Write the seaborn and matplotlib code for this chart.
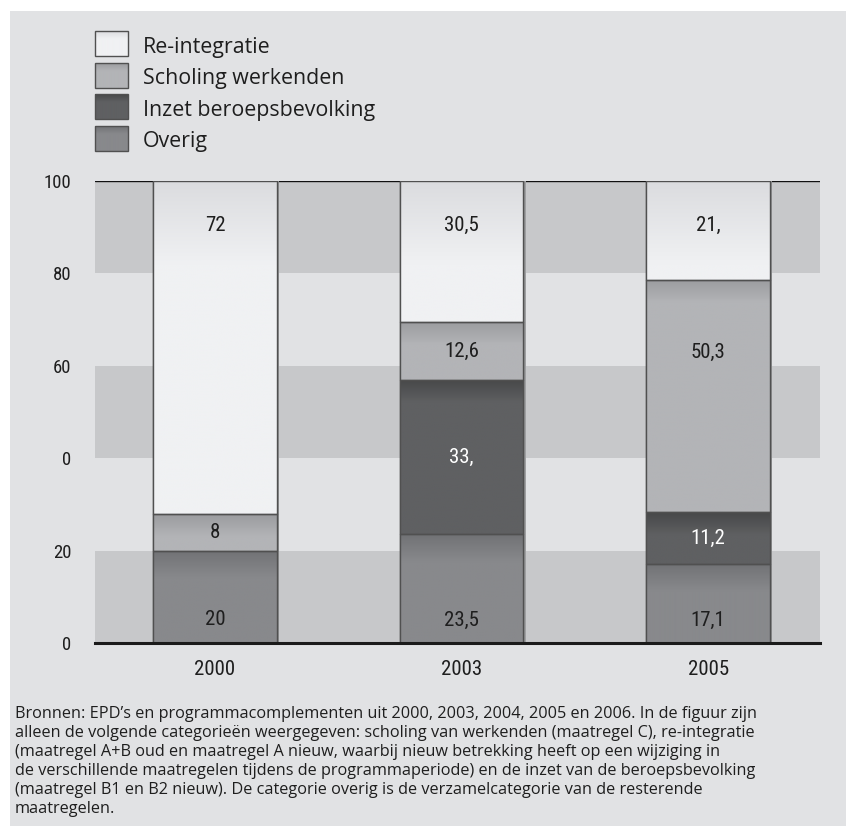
import numpy as np
import matplotlib
matplotlib.use("Agg")
import matplotlib.pyplot as plt
import matplotlib.patheffects as pe
from matplotlib import font_manager
from matplotlib.patches import Rectangle
from matplotlib.colors import to_rgb
import seaborn as sns

# ---- data -------------------------------------------------------------
years = ["2000", "2003", "2005"]
overig = [20.0, 23.5, 17.1]
inzet = [0.0, 33.4, 11.2]
scholing = [8.0, 12.6, 50.3]
reintegratie = [72.0, 30.5, 21.4]

overig_labels = ["20", "23,5", "17,1"]
inzet_labels = ["", "33,", "11,2"]
scholing_labels = ["8", "12,6", "50,3"]
reintegratie_labels = ["72", "30,5", "21,"]

y_ticks = [0, 20, 40, 60, 80, 100]
y_tick_labels = ["0", "20", "0", "60", "80", "100"]

legend_names = ["Re-integratie", "Scholing werkenden", "Inzet beroepsbevolking", "Overig"]

caption_lines = [
    "Bronnen: EPD\u2019s en programmacomplementen uit 2000, 2003, 2004, 2005 en 2006. In de figuur zijn",
    "alleen de volgende categorie\u00ebn weergegeven: scholing van werkenden (maatregel C), re-integratie",
    "(maatregel A+B oud en maatregel A nieuw, waarbij nieuw betrekking heeft op een wijziging in",
    "de verschillende maatregelen tijdens de programmaperiode) en de inzet van de beroepsbevolking",
    "(maatregel B1 en B2 nieuw). De categorie overig is de verzamelcategorie van de resterende",
    "maatregelen.",
]

# ---- fonts ------------------------------------------------------------
_fonts = font_manager.fontManager.ttflist
_names = {f.name for f in _fonts}


def pick_condensed():
    for fam in ["Liberation Sans Narrow", "DejaVu Sans Condensed", "Roboto Condensed",
                "Noto Sans Condensed", "Open Sans Condensed"]:
        if fam in _names:
            return fam, "normal"
    for fam in ["DejaVu Sans", "Noto Sans", "Roboto", "Open Sans"]:
        if any(f.name == fam and str(f.stretch) in ("condensed", "semi-condensed", "625", "750")
               for f in _fonts):
            return fam, "condensed"
    return "Roboto", "normal"


narrow, narrow_stretch = pick_condensed()
wide = "Open Sans"

# ---- styling ----------------------------------------------------------
W, H = 846, 826
panel_color = "#e1e2e4"
band_color = "#c7c8ca"
edge_color = "#505050"
text_color = "#1e1e1e"

# series drawn bottom-up: (name, values, labels, base colour, top colour, fade span, text colour)
stack = [
    ("Overig", overig, overig_labels, "#88898c", "#717275", 6.0, text_color),
    ("Inzet beroepsbevolking", inzet, inzet_labels, "#5f6062", "#474849", 5.0, "#ffffff"),
    ("Scholing werkenden", scholing, scholing_labels, "#b3b4b7", "#9b9c9f", 5.0, text_color),
    ("Re-integratie", reintegratie, reintegratie_labels, "#f0f1f3", "#dbdcdf", 18.0, text_color),
]
series_style = {s[0]: s for s in stack}

sns.set_theme(style="white")
plt.rcParams["font.family"] = [wide, "DejaVu Sans"]

fig = plt.figure(figsize=(W / 100, H / 100), dpi=100, facecolor="white")

# overlay axes in pixel units for the panel, legend and source note
lax = fig.add_axes([0, 0, 1, 1], zorder=0)
lax.set_xlim(0, W)
lax.set_ylim(H, 0)
lax.axis("off")
lax.add_patch(Rectangle((10, 11), W - 10, H - 11, facecolor=panel_color, edgecolor="none", zorder=0))

ax = fig.add_axes([95 / W, (H - 643) / H, (820 - 95) / W, (643 - 181) / H], zorder=1)
ax.set_facecolor("none")


def ramp(base, top, span, height, n=400):
    """Vertical colour ramp (row 0 = top) fading from top colour to base over `span`."""
    dist = np.linspace(0, height, n)
    frac = np.clip(dist / span, 0, 1)[:, None, None]
    return np.array(to_rgb(top))[None, None, :] * (1 - frac) + np.array(to_rgb(base))[None, None, :] * frac


# ---- stacked bars -----------------------------------------------------
bottoms = np.zeros(len(years))
bar_patches = {}
for name, vals, labels, base, top, span, tcol in stack:
    before = len(ax.patches)
    sns.barplot(x=years, y=vals, order=years, color=base, saturation=1, width=0.5,
                bottom=bottoms.copy(), edgecolor=edge_color, linewidth=1.0,
                errorbar=None, ax=ax, zorder=2)
    bar_patches[name] = list(ax.patches[before:])
    bottoms = bottoms + np.array(vals)

# gradient fill, shadow and outline for every segment
for name, vals, labels, base, top, span, tcol in stack:
    for p in bar_patches[name]:
        h = p.get_height()
        if h <= 0:
            p.set_visible(False)
            continue
        x0, y0, w = p.get_x(), p.get_y(), p.get_width()
        ax.imshow(ramp(base, top, span, h), extent=(x0, x0 + w, y0, y0 + h), aspect="auto",
                  zorder=2.2, interpolation="bilinear")
        p.set_path_effects([pe.SimplePatchShadow(offset=(2, 0), shadow_rgbFace="#9fa0a2", alpha=1.0),
                            pe.Normal()])
        ax.add_patch(Rectangle((x0, y0), w, h, fill=False, edgecolor=edge_color,
                               linewidth=1.0, zorder=2.4))

ax.set_xlim(-0.487, 2.454)
ax.set_ylim(0, 100)

# value labels
for name, vals, labels, base, top, span, tcol in stack:
    for i, p in enumerate(bar_patches[name]):
        if p.get_height() <= 0:
            continue
        lo, hi = p.get_y(), p.get_y() + p.get_height()
        if name == "Overig":
            ypos = lo + 5.0
        elif name == "Re-integratie":
            ypos = 90.3
        elif hi - lo > 40:
            ypos = hi - 15.8
        else:
            ypos = (lo + hi) / 2
        ax.text(p.get_x() + p.get_width() / 2, ypos, labels[i], ha="center", va="center",
                fontsize=15, fontfamily=narrow, fontstretch=narrow_stretch, color=tcol, zorder=4)

# background bands
for lo in (0, 40, 80):
    ax.axhspan(lo, lo + 20, color=band_color, zorder=0, linewidth=0)
ax.axhline(100, color="#111111", linewidth=1.0, zorder=1)

for s in ("top", "left", "right"):
    ax.spines[s].set_visible(False)
ax.spines["bottom"].set_color("#1a1a1a")
ax.spines["bottom"].set_linewidth(2.2)
ax.spines["bottom"].set_zorder(5)

ax.set_yticks(y_ticks, y_tick_labels)
ax.set_xticks(range(len(years)), years)
ax.tick_params(axis="y", length=0, pad=17, labelsize=13.5, labelcolor=text_color)
ax.tick_params(axis="x", length=0, pad=12, labelsize=15, labelcolor=text_color)
for t in ax.get_yticklabels() + ax.get_xticklabels():
    t.set_fontfamily(narrow)
    t.set_fontstretch(narrow_stretch)
ax.set_xlabel("")
ax.set_ylabel("")
ax.grid(False)

# ---- legend -----------------------------------------------------------
for k, name in enumerate(legend_names):
    _, _, _, base, top, span, _ = series_style[name]
    ytop = 31 + k * 31.6
    lax.imshow(ramp(base, top, 8.0, 25.0), extent=(95, 128, ytop + 25, ytop), aspect="auto",
               zorder=1, interpolation="bilinear")
    lax.add_patch(Rectangle((95, ytop), 33, 25, fill=False, edgecolor=edge_color,
                            linewidth=1.0, zorder=2))
    lax.text(143, ytop + 21.5, name, fontsize=15.4, fontfamily=wide, color=text_color,
             va="baseline", ha="left", zorder=3)
lax.set_xlim(0, W)
lax.set_ylim(H, 0)

# ---- source note ------------------------------------------------------
for i, line in enumerate(caption_lines):
    lax.text(15, 718.5 + i * 18.9, line, fontsize=11.7, fontfamily=wide, color=text_color,
             va="baseline", ha="left", zorder=3)

fig.savefig("out.png", dpi=100, facecolor="white")
